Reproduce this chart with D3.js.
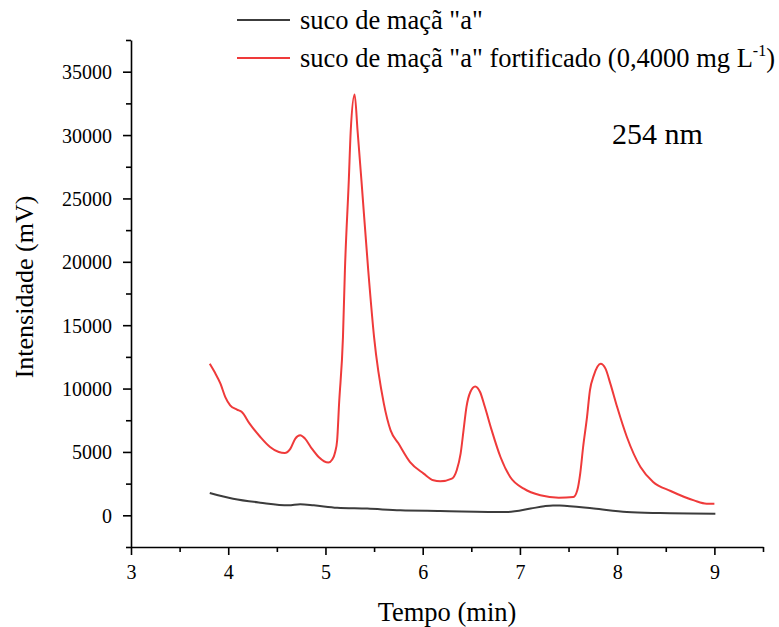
<!DOCTYPE html>
<html>
<head>
<meta charset="utf-8">
<script src="https://cdn.jsdelivr.net/npm/d3@7"></script>
<style>
  html, body { margin: 0; padding: 0; background: #fff; }
  svg { display: block; font-family: "Liberation Serif", "Times New Roman", serif; }
</style>
</head>
<body>
<svg id="chart" width="779" height="627"></svg>
<script>
// ---- data ----
const seriesNames = ['suco de maçã "a"', 'suco de maçã "a" fortificado (0,4000 mg L'];
const baseTimes  = [3.81, 4.05, 4.33, 4.62, 4.74, 4.88, 5.12, 5.43, 5.77, 6.18, 6.87, 7.11, 7.25, 7.34, 7.41, 7.76, 8.10, 8.44, 9.01];
const baseValues = [1760, 1310, 1000, 790, 870, 790, 600, 530, 390, 340, 260, 530, 720, 780, 770, 530, 260, 180, 130];
const fortTimes  = [3.81, 3.86, 3.92, 3.97, 4.02, 4.09, 4.14, 4.22, 4.33, 4.43, 4.52, 4.58, 4.64, 4.69, 4.74, 4.79, 4.86, 4.93, 5.03, 5.07, 5.10, 5.12, 5.14, 5.18, 5.20, 5.24, 5.26, 5.30, 5.33, 5.37, 5.44, 5.50, 5.60, 5.67, 5.75, 5.87, 6.01, 6.11, 6.18, 6.30, 6.35, 6.39, 6.42, 6.45, 6.49, 6.54, 6.59, 6.64, 6.71, 6.80, 6.90, 7.04, 7.21, 7.40, 7.55, 7.59, 7.62, 7.65, 7.69, 7.72, 7.76, 7.83, 7.88, 7.93, 8.00, 8.10, 8.24, 8.37, 8.55, 8.79, 8.92, 9.00];
const fortValues = [11960, 11300, 10390, 9330, 8680, 8340, 8150, 7230, 6180, 5390, 4990, 4910, 5260, 6050, 6310, 6050, 5260, 4600, 4160, 4400, 5000, 5900, 8800, 14060, 19320, 26420, 30360, 33200, 30360, 26420, 19320, 14060, 8830, 6700, 5680, 4200, 3290, 2760, 2680, 2890, 3550, 4860, 6700, 8540, 9730, 10170, 9730, 8540, 6700, 4600, 3020, 2100, 1580, 1390, 1440, 1970, 3290, 5390, 7750, 9860, 11040, 11960, 11570, 10390, 8540, 6180, 3810, 2630, 1920, 1180, 920, 920];
const xTickValues = [3, 4, 5, 6, 7, 8, 9];
const xMinorTicks = [3.5, 4.5, 5.5, 6.5, 7.5, 8.5, 9.5];
const yTickValues = [0, 5000, 10000, 15000, 20000, 25000, 30000, 35000];
const yMinorTicks = [-2500, 2500, 7500, 12500, 17500, 22500, 27500, 32500, 37500];
const xTitle = "Tempo (min)";
const yTitle = "Intensidade (mV)";
const annotation = "254 nm";

// ---- layout ----
const svg = d3.select("#chart");
const x = d3.scaleLinear().domain([3, 9.5]).range([131, 763]);
const y = d3.scaleLinear().domain([-2500, 37500]).range([547, 40]);
const colors = ["#3c3c3c", "#ef3a3a"];
const font = '"Liberation Serif", "Times New Roman", serif';

// axes
const gx = svg.append("g").attr("transform", `translate(0,${y.range()[0]})`)
  .call(d3.axisBottom(x).tickValues(xTickValues).tickFormat(d3.format("d")).tickSize(8).tickSizeOuter(0));
const gxm = svg.append("g").attr("transform", `translate(0,${y.range()[0]})`)
  .call(d3.axisBottom(x).tickValues(xMinorTicks).tickFormat("").tickSize(5).tickSizeOuter(0));
gxm.select(".domain").remove();
const gy = svg.append("g").attr("transform", `translate(${x.range()[0]},0)`)
  .call(d3.axisLeft(y).tickValues(yTickValues).tickFormat(d3.format("d")).tickSize(8).tickSizeOuter(0));
const gym = svg.append("g").attr("transform", `translate(${x.range()[0]},0)`)
  .call(d3.axisLeft(y).tickValues(yMinorTicks).tickFormat("").tickSize(5).tickSizeOuter(0));
gym.select(".domain").remove();

[gx, gxm, gy, gym].forEach(g => {
  g.attr("font-family", font);
  g.selectAll("path, line").attr("stroke", "#000").attr("stroke-width", 1.6);
  g.selectAll("text").attr("font-family", font).attr("font-size", 20).attr("fill", "#000");
});
gx.selectAll("text").attr("dy", null).attr("y", 32);
gy.selectAll("text").attr("x", -19).attr("dy", "0.35em");

// titles
svg.append("text").attr("x", 447).attr("y", 621).attr("text-anchor", "middle")
  .attr("font-size", 26.5).attr("font-family", font).text(xTitle);
svg.append("text").attr("transform", "translate(33,287) rotate(-90)").attr("text-anchor", "middle")
  .attr("font-size", 26).attr("font-family", font).text(yTitle);
svg.append("text").attr("x", 612).attr("y", 144)
  .attr("font-size", 30).attr("font-family", font).text(annotation);

// lines
const line = d3.line().x(d => x(d[0])).y(d => y(d[1])).curve(d3.curveMonotoneX);
const seriesData = [
  d3.zip(baseTimes, baseValues),
  d3.zip(fortTimes, fortValues)
];
svg.append("g").selectAll("path").data(seriesData).join("path")
  .attr("d", line).attr("fill", "none")
  .attr("stroke", (d, i) => colors[i]).attr("stroke-width", 2).attr("stroke-linejoin", "round");

// legend
const legY = [20, 58];
const leg = svg.append("g");
seriesNames.forEach((name, i) => {
  leg.append("line").attr("x1", 237).attr("x2", 290).attr("y1", legY[i]).attr("y2", legY[i])
    .attr("stroke", colors[i]).attr("stroke-width", 2);
  const t = leg.append("text").attr("x", 300).attr("y", legY[i] + 9)
    .attr("font-size", 26.5).attr("font-family", font).text(name);
  if (i === 1) {
    t.append("tspan").attr("font-size", 16).attr("dy", -11).text("-1");
    t.append("tspan").attr("dy", 11).text(")");
  }
});
</script>
</body>
</html>
